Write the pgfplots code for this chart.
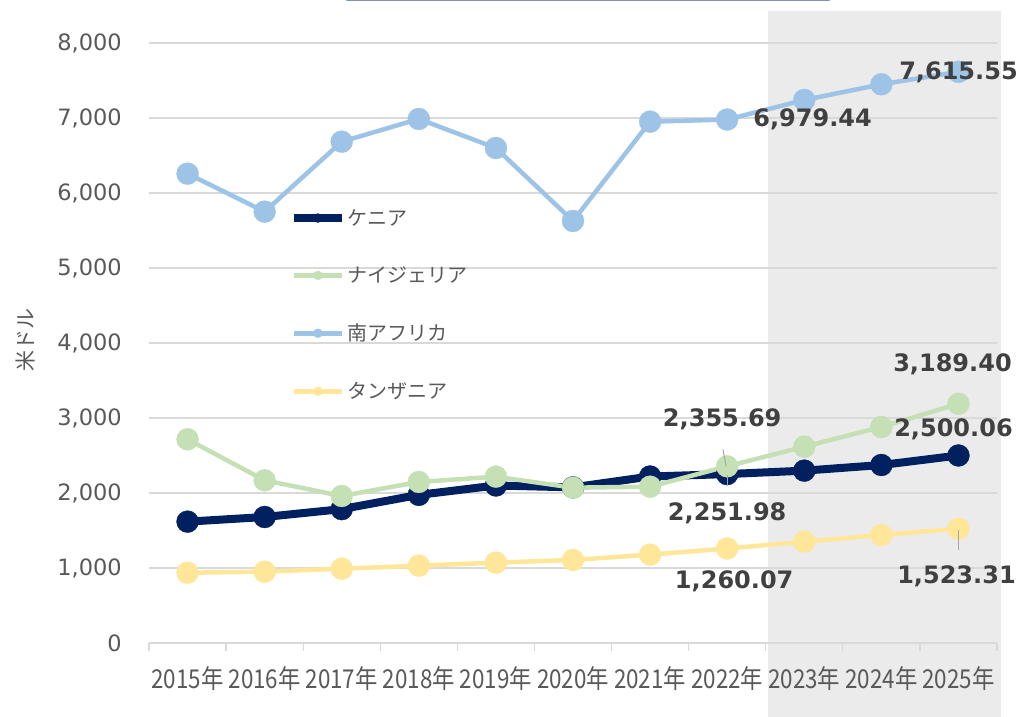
\documentclass[border=0pt]{standalone}
\usepackage{fontspec}
\setmainfont{DejaVu Sans}
\newfontfamily\jp{Noto Sans CJK JP}
\newfontfamily\jpx[FakeStretch=0.86]{Noto Sans CJK JP}
\usepackage{pgfplots}
\pgfplotsset{compat=1.18}
\definecolor{kenya}{HTML}{002060}
\definecolor{nigeria}{HTML}{C5E0B4}
\definecolor{safrica}{HTML}{9DC3E6}
\definecolor{tanz}{HTML}{FFE699}
\definecolor{gridc}{HTML}{D9D9D9}
\definecolor{txt}{HTML}{595959}
\definecolor{lbl}{HTML}{404040}
\definecolor{shadec}{HTML}{EBEBEB}
\definecolor{hdr}{HTML}{3A5A8E}
\definecolor{leader}{HTML}{A6A6A6}
\begin{document}
\begin{tikzpicture}[x=1pt,y=1pt]
\useasboundingbox (0,0) rectangle (1022,717);
\fill[color=shadec] (768,0) rectangle (1001,706);
\fill[color=hdr, rounded corners=10pt] (338,716.3) rectangle (838,760);
\begin{axis}[
  at={(149pt,74pt)}, anchor=south west,
  scale only axis, width=848pt, height=600pt,
  xmin=-0.5, xmax=10.5, ymin=0, ymax=8000,
  clip=false,
  axis lines*=left,
  y axis line style={draw=none},
  x axis line style={draw=gridc, line width=1.3pt},
  ytick={0,1000,...,8000},
  ymajorgrids, grid style={draw=gridc, line width=1.3pt},
  ytick style={draw=none},
  scaled y ticks=false,
  major tick length=0pt,
  xtick={0,...,10},
  xticklabels={2015年,2016年,2017年,2018年,2019年,2020年,2021年,2022年,2023年,2024年,2025年},
  xtick style={draw=gridc, line width=1.3pt},
  extra x ticks={-0.5,0.5,...,10.5},
  extra x tick labels={},
  extra x tick style={major tick length=8pt, tick align=outside, grid=none},
  xticklabel style={font=\jpx\fontsize{26}{30}\selectfont, text=txt, anchor=center, yshift=-36pt},
  yticklabel style={font=\fontsize{22.5}{26}\selectfont, text=txt, anchor=east, inner sep=0pt, xshift=-27pt,
     /pgf/number format/.cd, fixed, 1000 sep={,}, assume math mode=true},
  ylabel={米ドル},
  ylabel style={at={(axis description cs:-0.146,0.505)}, anchor=center, font=\jp\fontsize{21}{24}\selectfont, text=txt},
  legend style={at={(axis description cs:0.166,0.723)}, anchor=north west, draw=none, fill=none,
     font=\jp\fontsize{20}{24}\selectfont, text=txt, row sep=40pt, inner sep=0pt,
     nodes={inner xsep=2pt, inner ysep=0pt}},
  legend cell align=left,
  legend image code/.code={\draw[mark repeat=2,mark phase=2,#1,mark size=4.5pt] plot coordinates {(0pt,0pt)(24pt,0pt)(48pt,0pt)};},
  every axis plot/.append style={mark=*, mark options={solid, line width=0.3pt}},
]
\addplot[color=kenya, line width=8pt, mark size=11pt] coordinates {
 (0,1618) (1,1680) (2,1785) (3,1975) (4,2100) (5,2075) (6,2220) (7,2251.98) (8,2298) (9,2373) (10,2500.06)};
\addlegendentry{ケニア}
\addplot[color=nigeria, line width=4.5pt, mark size=11pt] coordinates {
 (0,2716) (1,2169) (2,1960) (3,2147) (4,2218) (5,2071) (6,2084) (7,2355.69) (8,2618) (9,2880) (10,3189.40)};
\addlegendentry{ナイジェリア}
\addplot[color=safrica, line width=4.5pt, mark size=11pt] coordinates {
 (0,6258) (1,5751) (2,6684) (3,6987) (4,6600) (5,5627) (6,6951) (7,6979.44) (8,7240) (9,7449) (10,7615.55)};
\addlegendentry{南アフリカ}
\addplot[color=tanz, line width=4.5pt, mark size=11pt] coordinates {
 (0,937) (1,951) (2,991) (3,1031) (4,1071) (5,1107) (6,1178) (7,1260.07) (8,1351) (9,1440) (10,1523.31)};
\addlegendentry{タンザニア}
\coordinate (sa22) at (axis cs:7,6979.44);
\coordinate (sa25) at (axis cs:10,7615.55);
\coordinate (ng22) at (axis cs:7,2355.69);
\coordinate (ke22) at (axis cs:7,2251.98);
\coordinate (tz22) at (axis cs:7,1260.07);
\coordinate (tz25) at (axis cs:10,1523.31);
\coordinate (ng25) at (axis cs:10,3189.40);
\coordinate (ke25) at (axis cs:10,2500.06);
\end{axis}
% leader lines
\draw[color=leader, line width=1pt] ([xshift=-4.3pt,yshift=17pt]ng22) -- ([xshift=-1pt,yshift=0pt]ng22);
\draw[color=leader, line width=1pt] ([yshift=-1pt]ke22) -- ([yshift=-12pt]ke22);
\draw[color=leader, line width=1pt] ([yshift=-1pt]tz25) -- ([yshift=-21pt]tz25);
% data labels
\tikzset{dl/.style={font=\bfseries\fontsize{24}{28}\selectfont, text=lbl, inner sep=0pt}}
\node[dl, anchor=west, xshift=26pt] at (sa22) {6,979.44};
\node[dl, anchor=center] at (sa25) {7,615.55};
\node[dl, anchor=center, xshift=-5pt, yshift=47pt] at (ng22) {2,355.69};
\node[dl, anchor=center, yshift=-39pt] at (ke22) {2,251.98};
\node[dl, anchor=center, xshift=7pt, yshift=-32.5pt] at (tz22) {1,260.07};
\node[dl, anchor=center, xshift=-2pt, yshift=-48pt] at (tz25) {1,523.31};
\node[dl, anchor=center, xshift=-6pt, yshift=39pt] at (ng25) {3,189.40};
\node[dl, anchor=center, xshift=-5pt, yshift=26.5pt] at (ke25) {2,500.06};
\end{tikzpicture}
\end{document}
